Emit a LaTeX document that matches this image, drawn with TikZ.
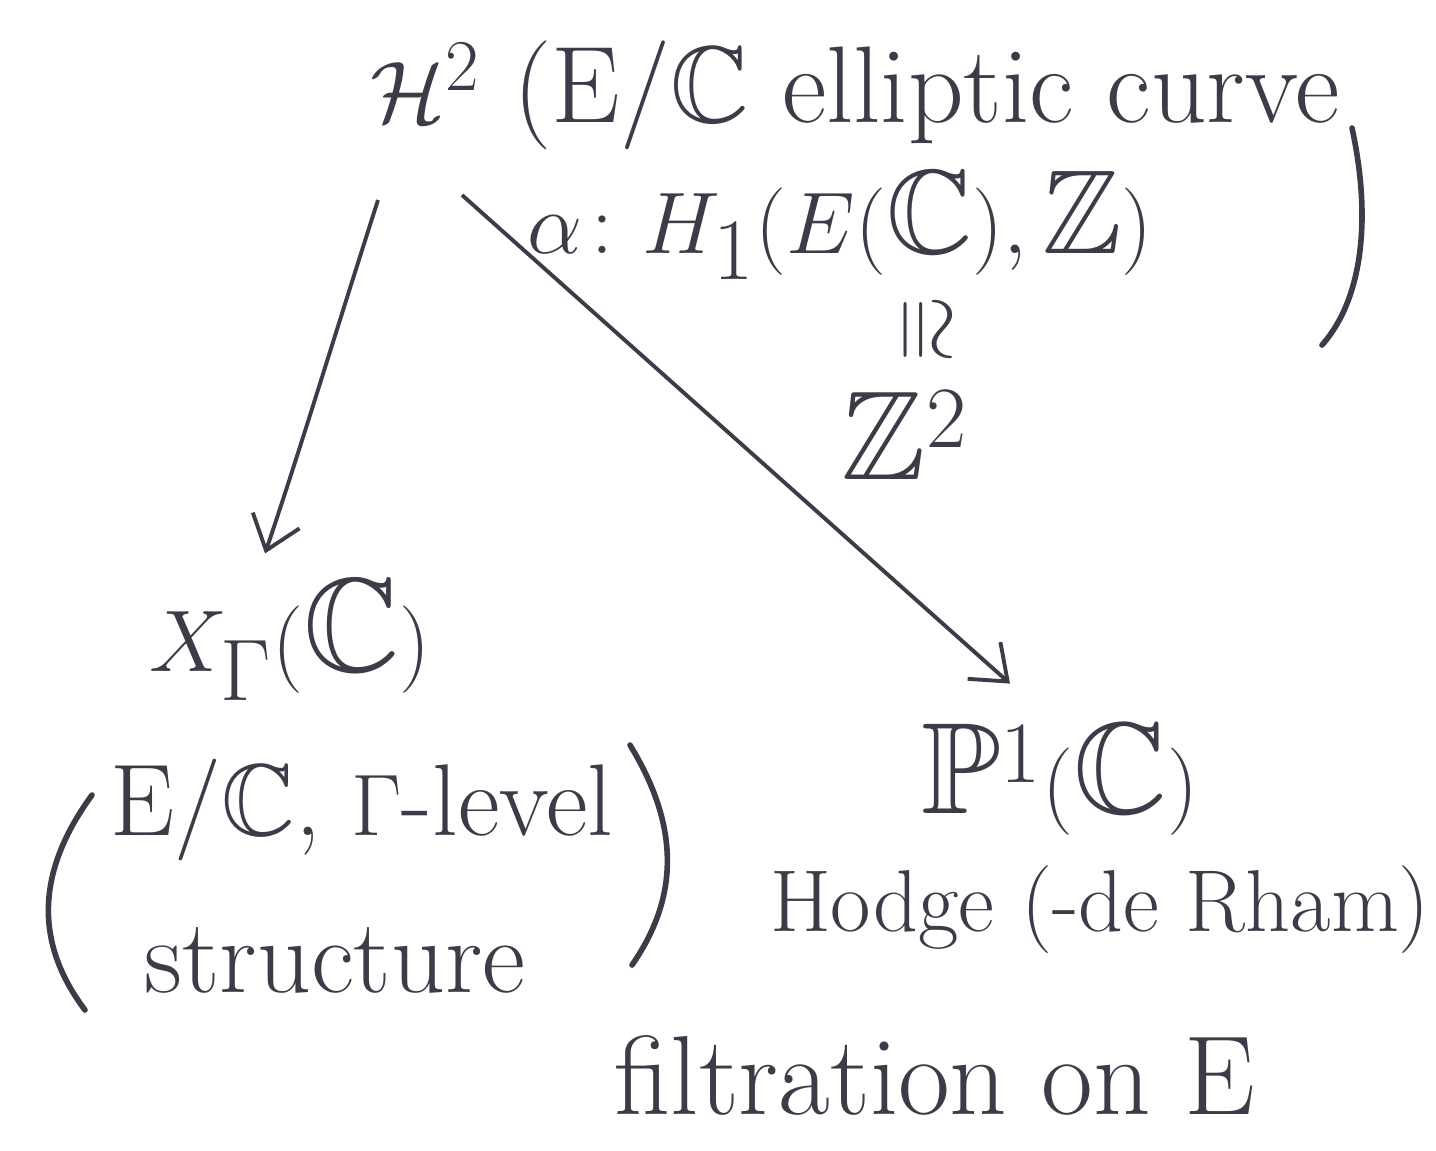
\documentclass[tikz,border=0pt]{standalone}
\usepackage{amssymb}
\usepackage{amsmath}
\usetikzlibrary{arrows.meta,calc}
\definecolor{ink}{HTML}{3C3C48}
\begin{document}
\begin{tikzpicture}[x=0.01cm,y=-0.01cm,
  every node/.style={text=ink,inner sep=0pt},
  arr/.style={draw=ink,line width=1.1pt,-{Straight Barb[length=9pt,width=14pt,line width=1.1pt]}},
  paren/.style={draw=ink,line width=1.6pt,line cap=round}]
\useasboundingbox (0,0) rectangle (1436,1150);
\node[font=\fontsize{31}{36}\selectfont] (top) at (855,95) {$\mathcal{H}^2$ (E/$\mathbb{C}$ elliptic curve};
\node[font=\fontsize{34}{40}\selectfont] (alpha) at (840,225) {$\alpha\colon H_1(E(\mathbb{C}),\mathbb{Z})$};
\node[font=\fontsize{36}{40}\selectfont,rotate=-90] (iso) at (922,330) {$\cong$};
\node[font=\fontsize{36}{40}\selectfont] (z2) at (905,435) {$\mathbb{Z}^2$};
\coordinate (tr1) at (1352,128);
\coordinate (tr2) at (1322,345);
\draw[paren] (tr1) .. controls (1372,220) and (1362,300) .. (tr2);
\node[font=\fontsize{38}{40}\selectfont] (xg) at (290,640) {$X_\Gamma(\mathbb{C})$};
\node[font=\fontsize{29}{36}\selectfont] (lev) at (362,810) {E/$\mathbb{C}$, $\Gamma$-level};
\node[font=\fontsize{30}{36}\selectfont] (str) at (335,960) {structure};
\coordinate (ll1) at (92,795);
\coordinate (ll2) at (85,1010);
\draw[paren] (ll1) .. controls (30,880) and (40,950) .. (ll2);
\coordinate (lr1) at (630,745);
\coordinate (lr2) at (632,965);
\draw[paren] (lr1) .. controls (682,830) and (677,900) .. (lr2);
\node[font=\fontsize{37}{40}\selectfont] (p1) at (1060,780) {$\mathbb{P}^1(\mathbb{C})$};
\node[font=\fontsize{25}{36}\selectfont] (hodge) at (1100,910) {Hodge (-de Rham)};
\node[font=\fontsize{32}{36}\selectfont] (filt) at (935,1075) {filtration on E};
\coordinate (a1s) at (378,200);
\coordinate (a2s) at (462,195);
\draw[arr] (a1s) .. controls (330,350) and (300,450) .. ($(xg.north)+(-25,-25)$);
\draw[arr] (a2s) -- ($(p1.north)+(-50,-40)$);
\end{tikzpicture}
\end{document}
